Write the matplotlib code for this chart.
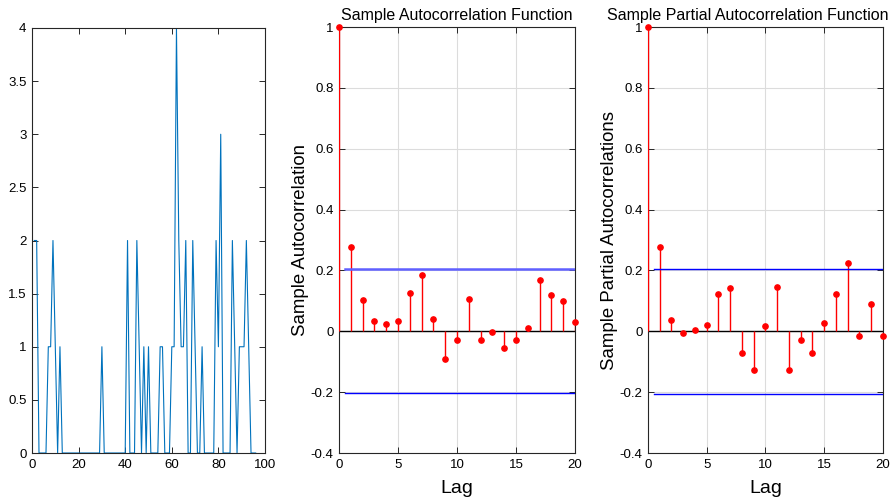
import numpy as np
import matplotlib
matplotlib.use("Agg")
import matplotlib.pyplot as plt

plt.rcParams['font.family'] = ['Liberation Sans', 'DejaVu Sans']

series = [2, 2, 0, 0, 0, 0, 1, 1, 2, 1, 0, 1, 0, 0, 0, 0, 0, 0, 0, 0,
          0, 0, 0, 0, 0, 0, 0, 0, 0, 1, 0, 0, 0, 0, 0, 0, 0, 0, 0, 0,
          2, 0, 0, 0, 2, 1, 0, 1, 0, 1, 0, 0, 0, 0, 1, 1, 0, 0, 0, 1,
          1, 4, 2, 1, 1, 2, 0, 0, 2, 1, 0, 0, 1, 0, 0, 0, 0, 0, 2, 1,
          3, 0, 0, 0, 0, 2, 1, 0, 1, 1, 1, 2, 1, 0, 0, 0]

lags = list(range(21))
acf_vals = [1.0, 0.277, 0.102, 0.035, 0.024, 0.035, 0.125, 0.184, 0.041, -0.090,
            -0.030, 0.107, -0.030, -0.002, -0.054, -0.027, 0.010, 0.170, 0.119,
            0.100, 0.032]
pacf_vals = [1.0, 0.278, 0.036, -0.005, 0.005, 0.021, 0.122, 0.141, -0.071, -0.126,
             0.019, 0.145, -0.126, -0.027, -0.072, 0.028, 0.123, 0.225, -0.016,
             0.090, -0.014]
acf_bound = 0.204
pacf_bound = 0.205

ts_xticks = [0, 20, 40, 60, 80, 100]
ts_yticks = [0, 0.5, 1, 1.5, 2, 2.5, 3, 3.5, 4]
ts_yticklabels = ['0', '0.5', '1', '1.5', '2', '2.5', '3', '3.5', '4']
cf_xticks = [0, 5, 10, 15, 20]
cf_yticks = [-0.4, -0.2, 0, 0.2, 0.4, 0.6, 0.8, 1]
cf_yticklabels = ['-0.4', '-0.2', '0', '0.2', '0.4', '0.6', '0.8', '1']

W, H = 895, 501
fig = plt.figure(figsize=(W / 100, H / 100), dpi=100)

def ax_at(l, r, t, b):
    return fig.add_axes([l / W, 1 - b / H, (r - l) / W, (b - t) / H])

axc = '#262626'

def style(ax):
    for s in ax.spines.values():
        s.set_color(axc)
        s.set_linewidth(0.8)
    ax.tick_params(direction='in', top=True, right=True, length=4, width=0.7,
                   colors=axc, labelsize=9.5, pad=4)
    for lab in ax.get_xticklabels() + ax.get_yticklabels():
        lab.set_color('black')

# Left: time series
ax1 = ax_at(32, 265, 28, 453)
ax1.plot(np.arange(1, len(series) + 1), series, color='#0072BD', linewidth=0.8)
ax1.set_xlim(0, 100)
ax1.set_ylim(0, 4)
ax1.set_xticks(ts_xticks)
ax1.set_yticks(ts_yticks)
ax1.set_yticklabels(ts_yticklabels)
style(ax1)

def cf_panel(ax, vals, bound, title, ylabel, title_x, upper_style):
    ax.grid(True, color='#dcdcdc', linewidth=0.8)
    ax.set_axisbelow(True)
    ax.axhline(0, color='black', linewidth=1.0, zorder=2)
    ax.vlines(lags, 0, vals, color='red', linewidth=1.0, zorder=3)
    ax.plot(lags, vals, 'o', color='red', markersize=3.8, zorder=4, clip_on=False)
    ax.plot([0.5, 20], [bound, bound], zorder=3, **upper_style)
    ax.plot([0.5, 20], [-bound, -bound], color='blue', linewidth=1.0, zorder=3)
    ax.set_xlim(0, 20)
    ax.set_ylim(-0.4, 1)
    ax.set_xticks(cf_xticks)
    ax.set_yticks(cf_yticks)
    ax.set_yticklabels(cf_yticklabels)
    ax.set_title(title, fontsize=11.5, pad=5, x=title_x)
    ax.set_xlabel('Lag', fontsize=14, labelpad=7)
    ax.set_ylabel(ylabel, fontsize=13.4, labelpad=1)
    style(ax)

ax2 = ax_at(339, 575, 27, 453)
cf_panel(ax2, acf_vals, acf_bound, 'Sample Autocorrelation Function', 'Sample Autocorrelation',
         0.5, dict(color='#6060ff', linewidth=1.8))

ax3 = ax_at(648, 883, 27, 453)
cf_panel(ax3, pacf_vals, pacf_bound, 'Sample Partial Autocorrelation Function',
         'Sample Partial Autocorrelations', 0.425, dict(color='blue', linewidth=1.0))

fig.savefig('out.png', dpi=100)
